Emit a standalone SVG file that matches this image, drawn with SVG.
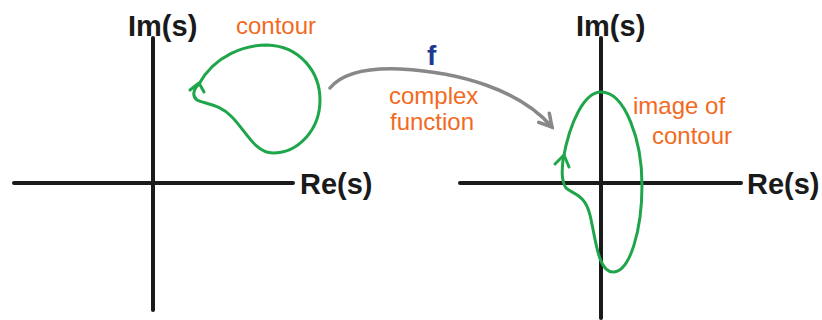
<svg xmlns="http://www.w3.org/2000/svg" width="822" height="320" viewBox="0 0 822 320">
<style>
.axis{stroke:#1a1a1a;stroke-width:4;stroke-linecap:round;fill:none}
.curve{stroke:#1fa54a;stroke-width:3;fill:none;stroke-linecap:round;stroke-linejoin:round}
.lbl{font-family:"Liberation Sans",Arial,sans-serif;fill:#1a1a1a;font-size:29px;font-weight:bold}
.note{font-family:"Liberation Sans",Arial,sans-serif;fill:#f26a22;font-size:24px}
</style>
<defs>
<marker id="ah" viewBox="0 0 10 10" refX="8" refY="5" markerWidth="5" markerHeight="5" orient="auto">
<path d="M1,1 L8,5 L1,9" fill="none" stroke="#888" stroke-width="2" stroke-linecap="round"/>
</marker>
</defs>
<rect width="822" height="320" fill="#fff"/>
<g id="left-plane">
<line class="axis" x1="153" y1="38" x2="153" y2="310"/>
<line class="axis" x1="14" y1="183" x2="293" y2="183"/>
<text class="lbl" x="128" y="36">Im(s)</text>
<text class="lbl" x="300" y="194">Re(s)</text>
</g>
<g id="left-contour">
<path class="curve" d="M199,84 C215,55 245,45 267,45 C300,46 320,72 320,100 C320,130 298,153 273,153 C255,153 245,130 232,117 C220,104 205,104 197,100 C192,96 193,90 199,84"/>
<path class="curve" d="M190,90 L199,83 L204,92"/>
<text class="note" x="236" y="34">contour</text>
</g>
<g id="right-plane">
<line class="axis" x1="601" y1="38" x2="601" y2="318"/>
<line class="axis" x1="460" y1="183" x2="741" y2="183"/>
<text class="lbl" x="576" y="36">Im(s)</text>
<text class="lbl" x="747" y="194">Re(s)</text>
</g>
<g id="right-contour">
<path class="curve" d="M563,160 C570,120 585,92 601,92 C625,92 642,140 642,185 C642,230 630,272 613,272 C598,272 596,240 590,215 C585,195 575,195 566,188 C561,180 562,170 563,160"/>
<path class="curve" d="M555,164 L564,155 L569,167"/>
<text class="note" x="633" y="114">image of</text>
<text class="note" x="652" y="144">contour</text>
</g>
<g id="connectors">
<path d="M330,88 C345,70 375,68 400,69 C460,72 520,90 552,127" fill="none" stroke="#888" stroke-width="3.5" stroke-linecap="round" marker-end="url(#ah)"/>
<text x="427" y="65" font-family="Liberation Sans,Arial,sans-serif" font-size="28" font-weight="bold" fill="#1f3a93">f</text>
<text class="note" x="389" y="104" font-size="21">complex</text>
<text class="note" x="390" y="130" font-size="21">function</text>
</g>
</svg>
